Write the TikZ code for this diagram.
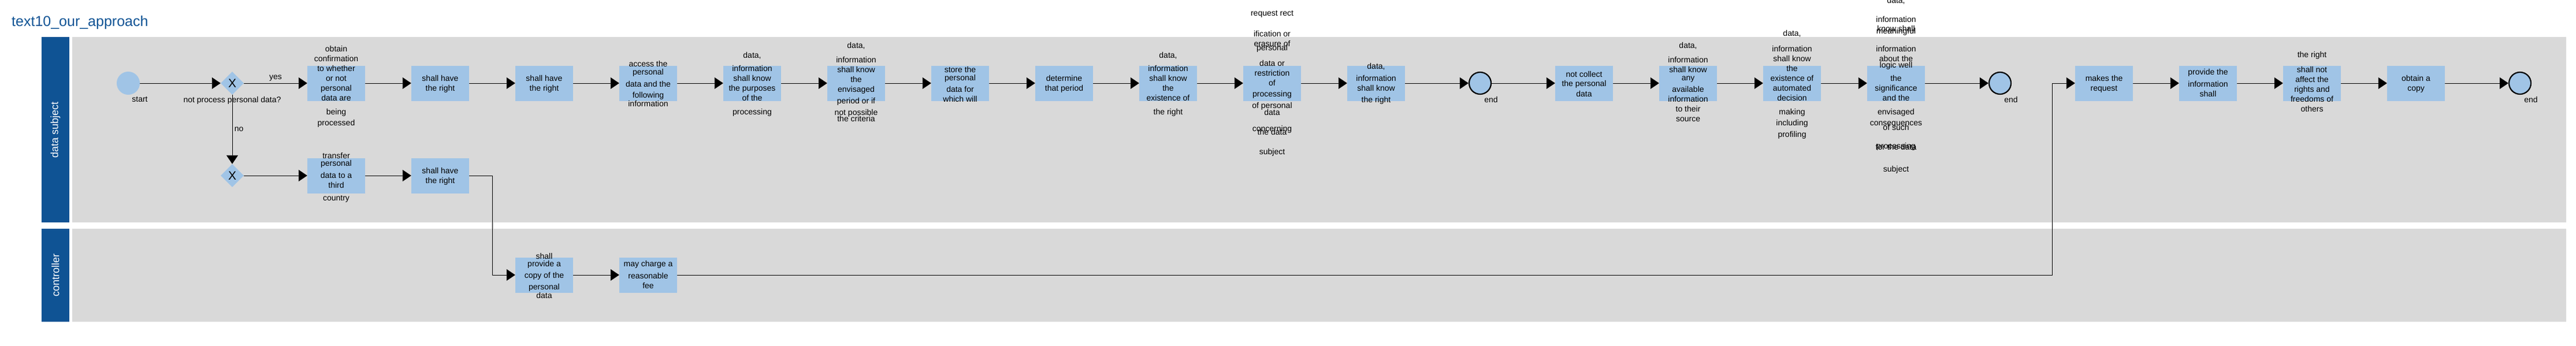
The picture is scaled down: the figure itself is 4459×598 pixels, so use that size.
\documentclass[tikz,border=0pt]{standalone}
\usepackage{fontspec}
\setmainfont{Liberation Sans}
\usetikzlibrary{arrows.meta,shapes.geometric}
\definecolor{bpmnblue}{RGB}{15,83,148}
\definecolor{tasklight}{RGB}{160,196,230}
\definecolor{lanegrey}{RGB}{217,217,217}
\begin{document}
\begin{tikzpicture}[
            x = 1pt, y = -1pt,
            lane/.style = {fill = lanegrey},
            pool/.style = {fill = bpmnblue, text = white, rotate = 90, inner sep = 0mm, minimum height = 48pt, font = \fontsize{18}{18}\selectfont},
            task/.style = {fill = tasklight, inner sep = 0mm, minimum width = 100pt, minimum height = 61pt},
            txt/.style = {align = center, inner sep = 0mm, font = \fontsize{14}{17}\selectfont},
            lbl/.style = {font = \fontsize{14}{17}\selectfont},
            ev/.style = {circle, fill = tasklight, inner sep = 0mm, minimum size = 40pt},
            endev/.style = {circle, draw, fill = tasklight, line width = 2.2pt, inner sep = 0mm, minimum size = 38pt},
            gate/.style = {diamond, fill = tasklight, inner sep = 0mm, minimum size = 40pt, font = \fontsize{21}{21}\selectfont},
            arr/.style = {draw, line width = 0.9pt, -{Triangle[length = 15pt, width = 20pt]}},
        ]
        \useasboundingbox (0,0) rectangle (4459,598);

        \node (title) [anchor = base west, inner sep = 0mm, text = bpmnblue, font = \fontsize{25}{25}\selectfont] at (20,45) {text10\_our\_approach};

        \path[lane] (125,64) rectangle (4442,385);
        \path[lane] (125,396) rectangle (4442,557);
        \node (ds) [pool, minimum width = 321pt] at (96,224.5) {data subject};
        \node (ctl) [pool, minimum width = 161pt] at (96,476.5) {controller};

        \node (start) [ev, label={[lbl, xshift = 20pt]below:start}] at (222,144) {};
        \node (g1) [gate, label={[lbl]below:not process personal data?}] at (402,144) {X};
        \node (g2) [gate] at (402,304) {X};

        \node (a1) [task] at (582,144) {};
        \node (a2) [task] at (762,144) {};
        \node (a3) [task] at (942,144) {};
        \node (a4) [task] at (1122,144) {};
        \node (a5) [task] at (1302,144) {};
        \node (a6) [task] at (1482,144) {};
        \node (a7) [task] at (1662,144) {};
        \node (a8) [task] at (1842,144) {};
        \node (a9) [task] at (2022,144) {};
        \node (a10) [task] at (2202,144) {};
        \node (a11) [task] at (2382,144) {};
        \node (end1) [endev, label={[lbl, xshift = 19pt]below:end}] at (2562,144) {};
        \node (a12) [task] at (2742,144) {};
        \node (a13) [task] at (2922,144) {};
        \node (a14) [task] at (3102,144) {};
        \node (a15) [task] at (3282,144) {};
        \node (end2) [endev, label={[lbl, xshift = 19pt]below:end}] at (3462,144) {};
        \node (r1) [task] at (3642,144) {};
        \node (r2) [task] at (3822,144) {};
        \node (r3) [task] at (4002,144) {};
        \node (r4) [task] at (4182,144) {};
        \node (end3) [endev, label={[lbl, xshift = 19pt]below:end}] at (4362,144) {};

        \node (n1) [task] at (582,304) {};
        \node (n2) [task] at (762,304) {};
        \node (c1) [task] at (942,476) {};
        \node (c2) [task] at (1122,476) {};

        % texts, they run over the boxes
        \node (a1t) [txt] at (582,150) {obtain\\confirmation\\to whether\\or not\\personal\\data are\\[6.5pt]being\\[2.5pt]processed};
        \node (a2t) [txt] at (762,145) {shall have\\the right};
        \node (a3t) [txt] at (942,145) {shall have\\the right};
        \node (a4t) [txt] at (1122,145) {access the\\[-3.5pt]personal\\[4pt]data and the\\[2pt]following\\[-2pt]information};
        \node (a5t) [txt] at (1302,146) {data,\\[6pt]information\\shall know\\the purposes\\of the\\[6.5pt]processing};
        \node (a6t) [txt] at (1482,141.5) {data,\\[8pt]information\\shall know\\the\\envisaged\\[3pt]period or if\\[3pt]not possible\\[-6pt]the criteria};
        \node (a7t) [txt] at (1662,145.5) {store the\\[-3pt]personal\\[3pt]data for\\which will};
        \node (a8t) [txt] at (1842,145) {determine\\that period};
        \node (a9t) [txt] at (2022,146) {data,\\[6pt]information\\shall know\\the\\existence of\\[6.5pt]the right};
        \node (a10t) [txt] at (2202,144) {request rect\\[19pt]ification or\\erasure of\\[-10pt]personal\\[10pt]data or\\restriction\\of\\[2pt]processing\\[3pt]of personal\\[-5pt]data\\[11pt]concerning\\[-11pt]the data\\[17pt]subject};
        \node (a11t) [txt] at (2382,145) {data,\\[4pt]information\\shall know\\[3pt]the right};
        \node (a12t) [txt] at (2742,145) {not collect\\[-1pt]the personal\\[1pt]data};
        \node (a13t) [txt] at (2922,141.5) {data,\\[8pt]information\\shall know\\[-3pt]any\\[3pt]available\\information\\to their\\source};
        \node (a14t) [txt] at (3102,146.5) {data,\\[10pt]information\\shall know\\the\\existence of\\automated\\decision\\[6.5pt]making\\[2.5pt]including\\[3pt]profiling};
        \node (a15t) [txt] at (3282,148) {data,\\[16pt]information\\[-1pt]know shall\\[-13.5pt]meaningful\\[14.5pt]information\\about the\\[-6pt]logic well\\[6pt]the\\significance\\and the\\[6.5pt]envisaged\\[2.5pt]consequences\\[-9pt]of such\\[14.6pt]processing\\[-14.6pt]for the data\\[21pt]subject};
        \node (r1t) [txt] at (3642,145) {makes the\\request};
        \node (r2t) [txt] at (3822,143) {provide the\\[4pt]information\\shall};
        \node (r3t) [txt] at (4002,141) {the right\\[9pt]shall not\\affect the\\rights and\\freedoms of\\others};
        \node (r4t) [txt] at (4182,145) {obtain a\\copy};
        \node (n1t) [txt] at (582,307.5) {transfer\\[-4pt]personal\\[4pt]data to a\\third\\[5pt]country};
        \node (n2t) [txt] at (762,305.5) {shall have\\the right};
        \node (c1t) [txt] at (942,477) {shall\\[-4pt]provide a\\[3pt]copy of the\\[3pt]personal\\[-2pt]data};
        \node (c2t) [txt] at (1122,475) {may charge a\\[4pt]reasonable\\fee};

        \coordinate (k1) at (852.5,304);
        \coordinate (k2) at (3552.5,476);

        \path[arr] (start) -- (g1);
        \path[arr] (g1) -- node[lbl, above] {yes} (a1);
        \path[arr] (g1) -- node[lbl, right] {no} (g2);
        \path[arr] (a1) -- (a2);
        \path[arr] (a2) -- (a3);
        \path[arr] (a3) -- (a4);
        \path[arr] (a4) -- (a5);
        \path[arr] (a5) -- (a6);
        \path[arr] (a6) -- (a7);
        \path[arr] (a7) -- (a8);
        \path[arr] (a8) -- (a9);
        \path[arr] (a9) -- (a10);
        \path[arr] (a10) -- (a11);
        \path[arr] (a11) -- (end1);
        \path[arr] (end1) -- (a12);
        \path[arr] (a12) -- (a13);
        \path[arr] (a13) -- (a14);
        \path[arr] (a14) -- (a15);
        \path[arr] (a15) -- (end2);

        \path[arr] (g2) -- (n1);
        \path[arr] (n1) -- (n2);
        \path[arr] (n2) -- (k1) |- (c1);
        \path[arr] (c1) -- (c2);
        \path[arr] (c2) -- (k2) |- (r1);

        \path[arr] (r1) -- (r2);
        \path[arr] (r2) -- (r3);
        \path[arr] (r3) -- (r4);
        \path[arr] (r4) -- (end3);
    \end{tikzpicture}
\end{document}
